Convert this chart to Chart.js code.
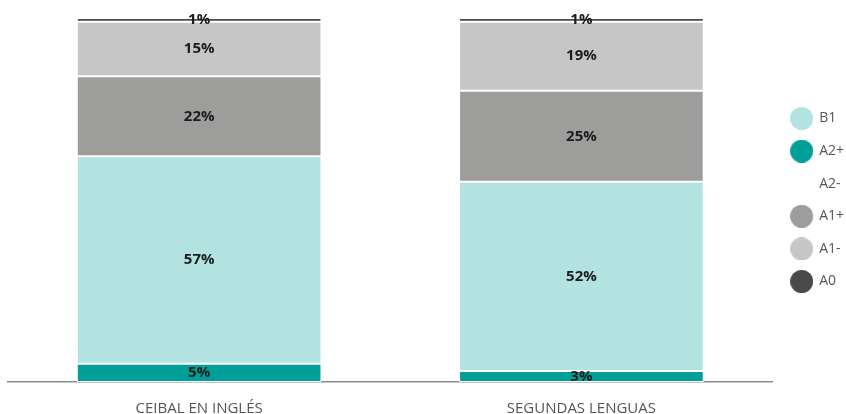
<!DOCTYPE html>
<html lang="es">
<head>
<meta charset="utf-8">
<title>Niveles de inglés</title>
<script src="https://cdn.jsdelivr.net/npm/chart.js@4.4.1/dist/chart.umd.min.js"></script>
<style>
  html, body { margin: 0; padding: 0; background: #fff; }
  #wrap { width: 846px; height: 414px; }
</style>
</head>
<body>
<div id="wrap"><canvas id="levelsChart"></canvas></div>
<script>
// categories and stacked shares (%), listed bottom to top of each bar
const categories = ['CEIBAL EN INGLÉS', 'SEGUNDAS LENGUAS'];
const a2plus  = [5, 3];
const b1      = [57, 52];
const a2minus = [0, 0];
const a1plus  = [22, 25];
const a1minus = [15, 19];
const a0      = [1, 1];

// legend reads top to bottom in this order
const legendOrder = ['B1', 'A2+', 'A2-', 'A1+', 'A1-', 'A0'];

const levelColors = {
  'B1': '#b3e3e0',
  'A2+': '#00a099',
  'A2-': '#ffffff',
  'A1+': '#9d9d9c',
  'A1-': '#c6c6c6',
  'A0': '#4a4a4a'
};

const textFont = '"Open Sans", "Noto Sans", sans-serif';

// round swatch used as the legend point style
const makeDot = (color) => {
  const c = document.createElement('canvas');
  c.width = 23;
  c.height = 23;
  const ctx = c.getContext('2d');
  ctx.fillStyle = color;
  ctx.beginPath();
  ctx.arc(11.5, 11.5, 11.5, 0, Math.PI * 2);
  ctx.fill();
  return c;
};

const makeSet = (label, data) => ({
  label: label,
  data: data,
  backgroundColor: levelColors[label],
  borderColor: '#ffffff',
  borderWidth: 1,
  borderSkipped: false,
  pointStyle: makeDot(levelColors[label])
});

// percentage written in the middle of each segment
const segmentLabels = {
  id: 'segmentLabels',
  afterDatasetsDraw(chart) {
    const ctx = chart.ctx;
    ctx.save();
    ctx.font = 'bold 15px ' + textFont;
    ctx.fillStyle = '#1c1c1c';
    ctx.textAlign = 'center';
    ctx.textBaseline = 'middle';
    chart.data.datasets.forEach((ds, i) => {
      const meta = chart.getDatasetMeta(i);
      meta.data.forEach((bar, j) => {
        const v = ds.data[j];
        if (!v) return;
        const p = bar.getProps(['x', 'y', 'base'], true);
        ctx.fillText(v + '%', p.x, (p.y + p.base) / 2);
      });
    });
    ctx.restore();
  }
};

new Chart(document.getElementById('levelsChart'), {
  type: 'bar',
  data: {
    labels: categories,
    datasets: [
      makeSet('A2+', a2plus),
      makeSet('B1', b1),
      makeSet('A2-', a2minus),
      makeSet('A1+', a1plus),
      makeSet('A1-', a1minus),
      makeSet('A0', a0)
    ]
  },
  options: {
    responsive: true,
    maintainAspectRatio: false,
    animation: false,
    layout: { padding: { top: 18, left: 8, right: -8, bottom: -22 } },
    datasets: {
      bar: { categoryPercentage: 0.8, barPercentage: 0.8 }
    },
    plugins: {
      tooltip: { enabled: false },
      legend: {
        position: 'right',
        fullSize: false,
        labels: {
          usePointStyle: true,
          pointStyleWidth: 21,
          padding: 18.6,
          color: '#555555',
          font: { family: textFont, size: 14 },
          sort: (a, b) => legendOrder.indexOf(a.text) - legendOrder.indexOf(b.text)
        }
      }
    },
    scales: {
      x: {
        stacked: true,
        grid: { display: false, drawTicks: false },
        border: { display: true, color: '#8a8a8a', width: 1.5 },
        ticks: {
          padding: 18,
          color: '#555555',
          font: { family: textFont, size: 15 }
        }
      },
      y: {
        stacked: true,
        display: false,
        min: 0,
        max: 100
      }
    }
  },
  plugins: [segmentLabels]
});
</script>
</body>
</html>
